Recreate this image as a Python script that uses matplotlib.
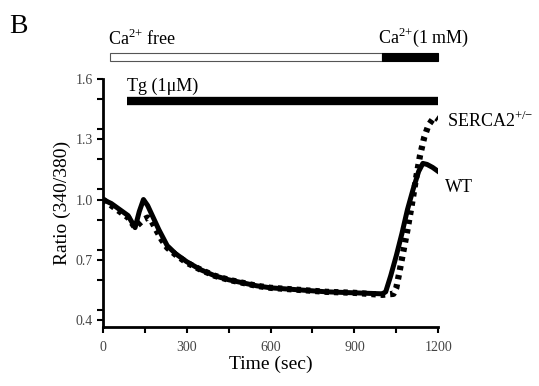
import matplotlib
matplotlib.use("Agg")
import matplotlib.pyplot as plt
from matplotlib.patches import Rectangle
from matplotlib.ticker import MultipleLocator

plt.rcParams["font.family"] = ["Liberation Serif", "DejaVu Serif"]
plt.rcParams["mathtext.fontset"] = "custom"
plt.rcParams["mathtext.rm"] = "Liberation Serif"

# WT trace (solid)
wt_t = [0, 30, 60, 90, 115, 130, 145, 160, 180, 200, 230, 260, 300, 350, 400,
        450, 500, 550, 600, 700, 800, 900, 1000, 1012, 1030, 1050, 1070, 1090,
        1110, 1130, 1145, 1160, 1180, 1200]
wt_v = [1.0, 0.98, 0.95, 0.92, 0.86, 0.94, 1.0, 0.97, 0.91, 0.85, 0.77, 0.73,
        0.69, 0.65, 0.62, 0.60, 0.585, 0.57, 0.56, 0.55, 0.54, 0.535, 0.53,
        0.54, 0.62, 0.72, 0.83, 0.95, 1.05, 1.14, 1.18, 1.175, 1.16, 1.14]

# SERCA2+/- trace (dotted)
het_t = [0, 30, 60, 90, 115, 130, 145, 160, 175, 190, 210, 230, 260, 300, 350,
         400, 450, 500, 550, 600, 700, 800, 900, 1000, 1040, 1050, 1060, 1075,
         1090, 1105, 1120, 1135, 1150, 1165, 1180, 1190, 1200]
het_v = [1.0, 0.97, 0.94, 0.91, 0.86, 0.88, 0.90, 0.91, 0.89, 0.85, 0.80, 0.76,
         0.725, 0.685, 0.65, 0.62, 0.60, 0.585, 0.57, 0.56, 0.55, 0.54, 0.535,
         0.525, 0.53, 0.56, 0.63, 0.74, 0.85, 0.97, 1.10, 1.22, 1.31, 1.37,
         1.40, 1.41, 1.40]

# treatment bars (start, end in sec)
ca_free = (25, 1000)
ca_1mm = (1000, 1200)
tg = (85, 1200)

fig = plt.figure(figsize=(5.39, 3.86), dpi=100)
ax = fig.add_axes([0.191, 0.153, 0.622, 0.642])

ax.plot(wt_t, wt_v, color="black", lw=3.6, solid_joinstyle="round")
ax.plot(het_t, het_v, color="black", lw=4.5, linestyle=(0, (0.7, 0.8)))

ax.set_xlim(0, 1200)
ax.set_ylim(0.365, 1.6)
ax.spines["top"].set_visible(False)
ax.spines["right"].set_visible(False)
ax.spines["left"].set_linewidth(2)
ax.spines["bottom"].set_linewidth(2)

ax.xaxis.set_major_locator(MultipleLocator(300))
ax.xaxis.set_minor_locator(MultipleLocator(150))
ax.set_yticks([0.4, 0.7, 1.0, 1.3, 1.6])
ax.yaxis.set_minor_locator(MultipleLocator(0.15))
ax.tick_params(which="both", direction="out", width=1.5, length=4,
               labelsize=10, labelcolor="#444444")
ax.tick_params(axis="x", pad=6)
ax.set_yticklabels(["0.4", "0.7", "1.0", "1.3", "1.6"])

ax.set_xlabel("Time (sec)", fontsize=14, labelpad=1)
ax.set_ylabel("Ratio (340/380)", fontsize=14, labelpad=3)

# Tg bar inside axes
ax.plot(tg, [1.49, 1.49], color="black", lw=6, solid_capstyle="butt",
        clip_on=False)
ax.text(tg[0], 1.52, "Tg (1μM)", fontsize=13, va="bottom", ha="left")

# calcium bars above axes
ax.add_patch(Rectangle((ca_free[0], 1.692), ca_free[1] - ca_free[0], 0.036,
                       facecolor="white", edgecolor="#555555", lw=0.8,
                       clip_on=False))
ax.add_patch(Rectangle((ca_1mm[0], 1.692), ca_1mm[1] - ca_1mm[0], 0.036,
                       facecolor="black", edgecolor="black", lw=0.8,
                       clip_on=False))
ax.text(ca_free[0] - 8, 1.75, "Ca$^{2{+}}$ free", fontsize=13, va="bottom",
        ha="left")
ax.text(ca_1mm[0] - 15, 1.75, "Ca$^{2{+}}$(1 mM)", fontsize=13, va="bottom",
        ha="left")

ax.text(1230, 1.39, "SERCA2$^{{+}/{-}}$", fontsize=13, va="center", ha="left")
ax.text(1225, 1.06, "WT", fontsize=13, va="center", ha="left")

fig.text(0.018, 0.965, "B", fontsize=20, va="top", ha="left")

fig.savefig("out.png", dpi=100)
